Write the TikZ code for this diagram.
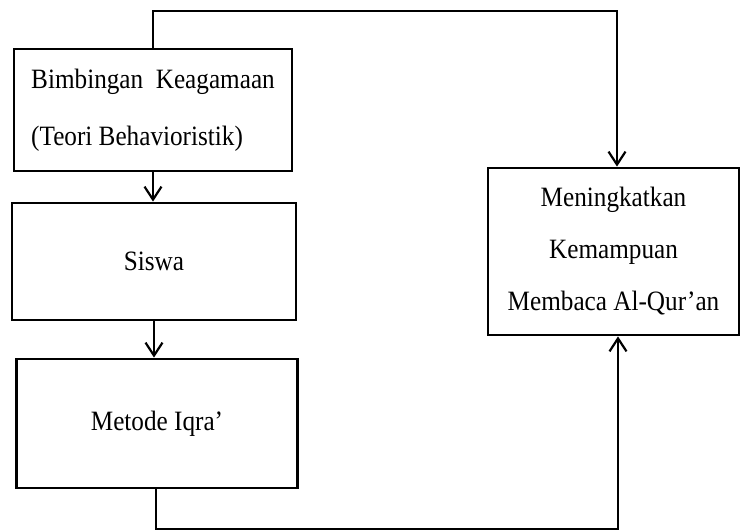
\documentclass[tikz,border=0pt]{standalone}
\usepackage{fontspec}
\setmainfont{Liberation Serif}[FakeStretch=0.9]
\usetikzlibrary{arrows.meta}

\tikzset{
  kotak/.style={draw, line width=2.8pt, inner sep=0pt, align=center,
    font=\fontsize{28}{52}\selectfont},
  garis/.style={line width=2.4pt},
  panah/.style={garis, -{Straight Barb[length=13pt, width=17pt, line width=2.2pt]}},
}

\begin{document}
\begin{tikzpicture}[x=1pt, y=-1pt]
  \useasboundingbox (0,0) rectangle (741,532);
  % kotak
  \node[kotak, align=left, minimum width=278pt, minimum height=122pt] (bimbingan) at (153,110)
    {Bimbingan\ \ Keagamaan\\[5pt](Teori Behavioristik)};
  \node[kotak, minimum width=284pt, minimum height=117pt] (siswa) at (154,261.5) {Siswa};
  \node[kotak, minimum width=281pt, minimum height=129pt] (iqra) at (157,423.5) {Metode Iqra’};
  \node[kotak, minimum width=251pt, minimum height=167pt] (tujuan) at (613.5,251.5)
    {Meningkatkan\\Kemampuan\\Membaca Al-Qur’an};
  % titik belok
  \coordinate (atas) at (153,11);
  \coordinate (atasKanan) at (617,11);
  \coordinate (bawah) at (156,529);
  \coordinate (bawahKanan) at (618,529);
  % panah
  \draw[panah] (bimbingan.south) -- (bimbingan.south |- siswa.north);
  \draw[panah] (siswa.south) -- (siswa.south |- iqra.north);
  \draw[panah] (bimbingan.north) -- (atas) -- (atasKanan) -- (atasKanan |- tujuan.north);
  \draw[panah] (iqra.south -| bawah) -- (bawah) -- (bawahKanan) -- (bawahKanan |- tujuan.south);
\end{tikzpicture}
\end{document}
